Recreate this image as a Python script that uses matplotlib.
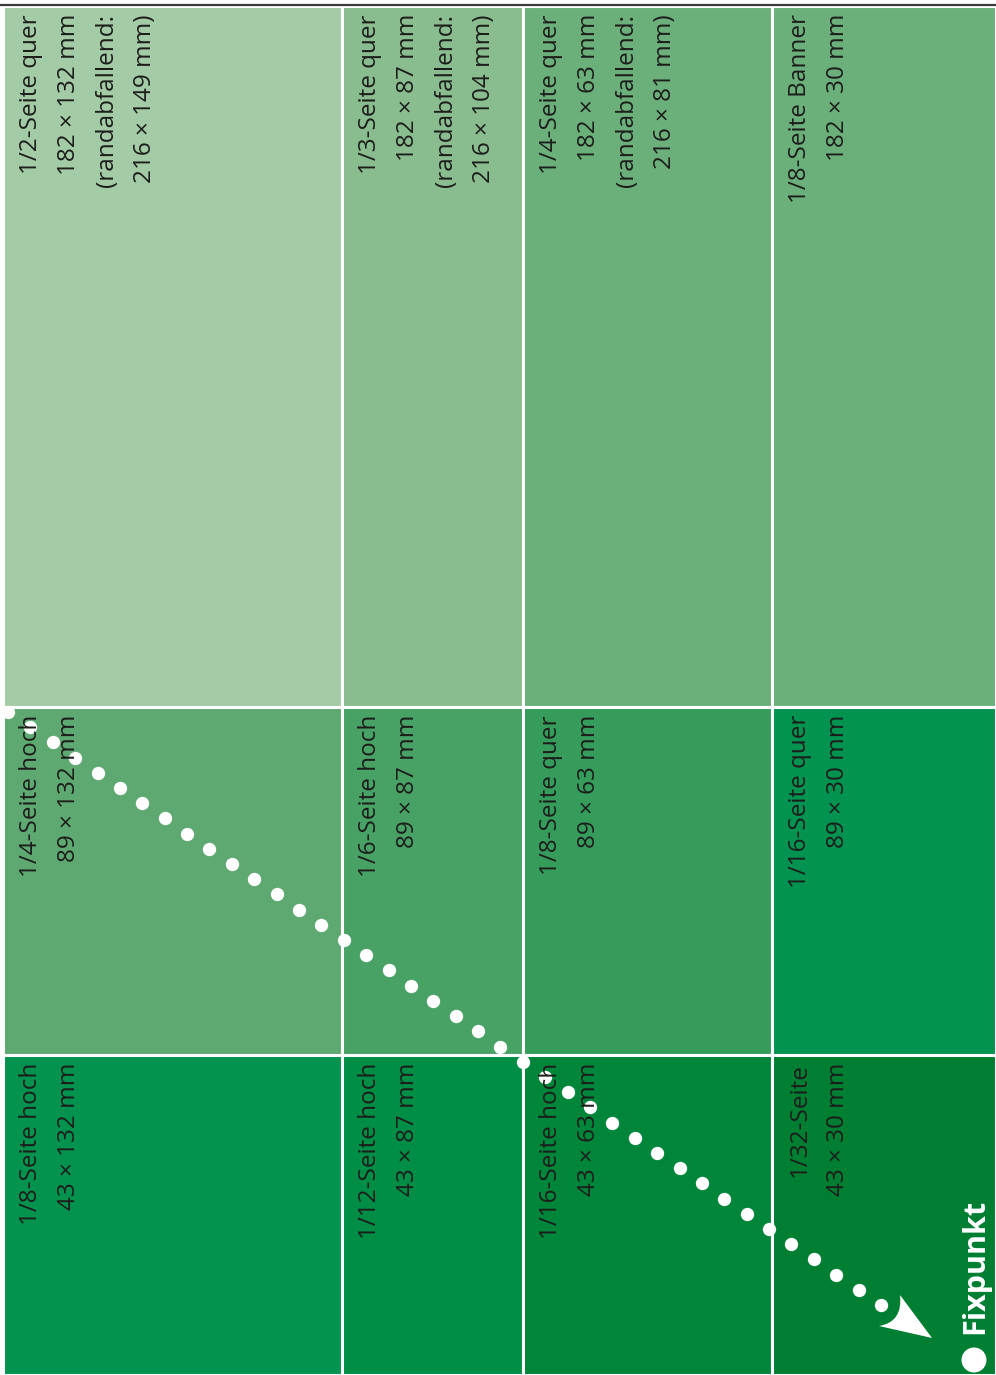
import matplotlib
matplotlib.use("Agg")
import matplotlib.pyplot as plt
from matplotlib.patches import Rectangle, PathPatch, Circle
from matplotlib.path import Path
import numpy as np

# ---------------- data ----------------
# grid cells listed column by column (left -> right), rows top -> bottom
titles = [
    ["1/2-Seite quer", "1/4-Seite hoch", "1/8-Seite hoch"],
    ["1/3-Seite quer", "1/6-Seite hoch", "1/12-Seite hoch"],
    ["1/4-Seite quer", "1/8-Seite quer", "1/16-Seite hoch"],
    ["1/8-Seite Banner", "1/16-Seite quer", "1/32-Seite"],
]
sizes = [
    ["182 × 132 mm", "89 × 132 mm", "43 × 132 mm"],
    ["182 × 87 mm", "89 × 87 mm", "43 × 87 mm"],
    ["182 × 63 mm", "89 × 63 mm", "43 × 63 mm"],
    ["182 × 30 mm", "89 × 30 mm", "43 × 30 mm"],
]
bleed_sizes = [
    ["216 × 149 mm", None, None],
    ["216 × 104 mm", None, None],
    ["216 × 81 mm", None, None],
    [None, None, None],
]
cell_colors = [
    ["#A3CBA5", "#5EA971", "#04934F"],
    ["#89BD8F", "#49A265", "#008D45"],
    ["#6BB07A", "#359C5C", "#00863A"],
    ["#6BB07A", "#029350", "#007F33"],
]
fix_label = "Fixpunkt"

# ---------------- layout ----------------
W, H = 996, 1375
col_edges = [3, 342, 523, 772, 996]
row_edges = [6, 707, 1055, 1375]
diag_start = (8, 712)
diag_end = (881, 1305)
n_dots = 40

FONT = ["Open Sans", "DejaVu Sans"]

fig = plt.figure(figsize=(W / 100, H / 100), dpi=100)
fig.patch.set_facecolor("white")
ax = fig.add_axes([0, 0, 1, 1])
ax.set_xlim(0, W)
ax.set_ylim(H, 0)
ax.axis("off")

for ci in range(4):
    for ri in range(3):
        x0, x1 = col_edges[ci], col_edges[ci + 1]
        y0, y1 = row_edges[ri], row_edges[ri + 1]
        ax.add_patch(Rectangle((x0, y0), x1 - x0, y1 - y0,
                               facecolor=cell_colors[ci][ri],
                               edgecolor="white", linewidth=2.2, zorder=1))
        lines = [titles[ci][ri], sizes[ci][ri]]
        if bleed_sizes[ci][ri]:
            lines += ["(randabfallend:", bleed_sizes[ci][ri] + ")"]
        ax.text(x0 + 16, y0 + 8, "\n".join(lines), rotation=90,
                ha="left", va="top", multialignment="right",
                fontsize=17.5, linespacing=1.77, color="#1d1d1b",
                family=FONT, zorder=6)

# top rule
ax.plot([0, W], [5, 5], color="#3c3c3c", lw=1.6, zorder=4,
        solid_capstyle="butt")

# dotted diagonal
xs = np.linspace(diag_start[0], diag_end[0], n_dots)
ys = np.linspace(diag_start[1], diag_end[1], n_dots)
ax.plot(xs, ys, "o", color="white", markersize=9.6, markeredgewidth=0,
        zorder=5)

# arrow head with concave back
tip = (932, 1338)
b1 = (900, 1295)
b2 = (879, 1326)
ctrl = (903, 1322)
verts = [tip, b1, ctrl, b2, tip]
codes = [Path.MOVETO, Path.LINETO, Path.CURVE3, Path.CURVE3, Path.CLOSEPOLY]
ax.add_patch(PathPatch(Path(verts, codes), facecolor="white",
                       edgecolor="none", zorder=5))

# Fixpunkt marker and label
ax.add_patch(Circle((974, 1360), 12.5, facecolor="white",
                    edgecolor="none", zorder=5))
ax.text(975, 1334, fix_label, rotation=90, ha="center", va="bottom",
        fontsize=22, fontweight="bold", color="white", family=FONT,
        zorder=5)

fig.savefig("out.png", dpi=100, facecolor="white")
